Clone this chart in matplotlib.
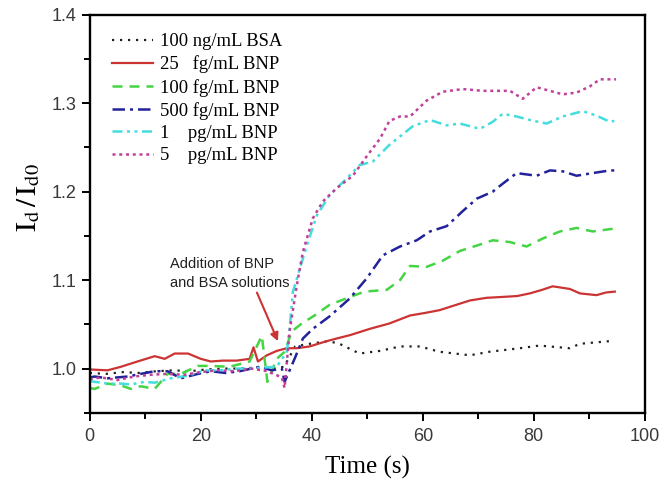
import matplotlib
matplotlib.use("Agg")
import matplotlib.pyplot as plt
from matplotlib.ticker import MultipleLocator

plt.rcParams["mathtext.fontset"] = "stix"

# ---- data: time (s) and normalised current I_d / I_d0 ----
bsa_t = [0, 3, 6, 9, 12, 15, 18, 21, 24, 27, 30, 33, 35, 37, 39.6, 43, 45, 48.6, 52.3,
         55.9, 59.5, 63, 68.5, 72, 77.5, 81, 86.5, 88.3, 93.7]
bsa_y = [0.995, 0.994, 0.996, 0.995, 0.997, 0.998, 0.997, 0.999, 1.0, 1.0, 1.001, 1.0,
         1.002, 1.025, 1.028, 1.031, 1.028, 1.017, 1.020, 1.025, 1.025, 1.019, 1.015,
         1.019, 1.023, 1.026, 1.023, 1.028, 1.031]

bnp25_t = [0, 3.2, 5.6, 8.6, 11.7, 13.5, 15.3, 17.7, 20, 21.8, 24, 26.5, 28.8, 29.5,
           30.3, 31.9, 33.7, 35.5, 37.3, 39.6, 42.7, 44.5, 47, 50.5, 54, 57.7, 60.5,
           63, 65.5, 68.5, 71.5, 74.4, 77, 79.3, 81.5, 83.4, 86.5, 88.3, 91.3, 93, 94.6]
bnp25_y = [0.999, 0.998, 1.002, 1.008, 1.014, 1.011, 1.017, 1.017, 1.011, 1.008, 1.009,
           1.009, 1.011, 1.024, 1.008, 1.015, 1.02, 1.023, 1.023, 1.025, 1.031, 1.034,
           1.038, 1.045, 1.051, 1.060, 1.063, 1.066, 1.071, 1.077, 1.080, 1.081, 1.082,
           1.085, 1.089, 1.093, 1.090, 1.085, 1.083, 1.086, 1.087]

bnp100_t = [0, 0.9, 3.2, 5.6, 7.4, 9.2, 11.7, 12.8, 14, 16.4, 19.5, 21.8, 25.2, 28.8,
            31, 31.5, 32, 33.7, 35.1, 36.4, 38.2, 40.5, 43.2, 46.5, 49.5, 53.5, 55.9,
            57.7, 60.7, 63.6, 66.7, 69.7, 72.6, 75.7, 78.7, 81.6, 84.7, 87.7, 90.6, 94.2]
bnp100_y = [0.978, 0.977, 0.983, 0.981, 0.977, 0.980, 0.977, 0.985, 0.994, 0.994, 1.003,
            1.003, 1.002, 1.008, 1.037, 1.011, 0.985, 1.011, 1.019, 1.042, 1.051, 1.060,
            1.072, 1.080, 1.087, 1.089, 1.100, 1.116, 1.115, 1.122, 1.133, 1.139, 1.145,
            1.143, 1.138, 1.147, 1.155, 1.159, 1.155, 1.158]

bnp500_t = [0, 0.9, 3.2, 6.8, 9.2, 11.7, 14, 16.4, 19.5, 21.8, 24.5, 27, 30.6, 32.8,
            34.6, 35.1, 36.9, 38.4, 40.2, 43.2, 46.8, 49.9, 52.8, 55.9, 58.9, 61.3,
            64.3, 67.2, 69.7, 72.6, 74.4, 76.9, 80.5, 82.9, 85.2, 87.7, 90.6, 93.7, 94.5]
bnp500_y = [0.990, 0.991, 0.989, 0.991, 0.994, 0.997, 0.997, 0.989, 0.994, 0.997, 0.995,
            0.997, 1.002, 0.998, 1.0, 0.985, 1.011, 1.034, 1.045, 1.059, 1.079, 1.102,
            1.128, 1.138, 1.145, 1.155, 1.161, 1.178, 1.192, 1.200, 1.209, 1.221, 1.218,
            1.224, 1.223, 1.218, 1.221, 1.224, 1.224]

pg1_t = [0, 0.9, 3.2, 5.6, 7.4, 9.9, 11.7, 14.6, 17.7, 20.7, 23.4, 26.5, 28.8, 31,
         33.7, 35.5, 36, 36.6, 39.1, 40.9, 43.2, 46.3, 48.6, 51, 54, 58.2, 61.3, 64.3,
         66.7, 68.5, 70.3, 72.6, 74.4, 76.9, 79.3, 82.3, 85.2, 88.8, 91.3, 93.7, 94.5]
pg1_y = [0.986, 0.985, 0.983, 0.983, 0.982, 0.985, 0.984, 0.989, 0.992, 0.998, 0.998,
         1.0, 1.0, 1.001, 1.002, 1.019, 1.045, 1.087, 1.139, 1.173, 1.196, 1.215, 1.230,
         1.234, 1.253, 1.274, 1.281, 1.275, 1.277, 1.274, 1.271, 1.279, 1.288, 1.285,
         1.281, 1.277, 1.285, 1.291, 1.286, 1.279, 1.280]

pg5_t = [0, 2, 5, 8, 11, 14, 17, 20, 23, 26, 29, 32, 34.6, 35.1, 36, 37.3, 38.4,
         40.2, 42, 44.5, 47.4, 49.9, 52.3, 54, 55.9, 57.7, 60.7, 63.6, 67.2, 70.8,
         75.7, 78, 80.5, 82.9, 85.2, 87.7, 90.1, 91.9, 94.2, 94.8]
pg5_y = [0.988, 0.990, 0.987, 0.991, 0.993, 0.994, 0.993, 0.996, 0.998, 0.997, 1.0,
         0.997, 0.990, 0.978, 1.042, 1.094, 1.132, 1.170, 1.189, 1.204, 1.218, 1.240,
         1.260, 1.280, 1.285, 1.285, 1.303, 1.313, 1.316, 1.314, 1.314, 1.305, 1.318,
         1.314, 1.310, 1.312, 1.319, 1.327, 1.327, 1.327]

labels = ["100 ng/mL BSA", "25   fg/mL BNP", "100 fg/mL BNP",
          "500 fg/mL BNP", "1    pg/mL BNP", "5    pg/mL BNP"]

fig = plt.figure(figsize=(6.6, 4.92), dpi=100)
ax = fig.add_axes([0.136, 0.161, 0.841, 0.809])

ax.plot(bsa_t, bsa_y, color="#202020", lw=1.6, ls=(0, (1, 2.6)), label=labels[0])
ax.plot(bnp25_t, bnp25_y, color="#cc3333", lw=1.6, ls="-", label=labels[1])
ax.plot(bnp100_t, bnp100_y, color="#44d444", lw=1.8, ls=(0, (4, 2.8)), label=labels[2])
ax.plot(bnp500_t, bnp500_y, color="#22229a", lw=1.8, ls=(0, (5, 2, 1.2, 2)), label=labels[3])
ax.plot(pg1_t, pg1_y, color="#44dddd", lw=1.8, ls=(0, (4, 1.8, 1.2, 1.8, 1.2, 1.8)), label=labels[4])
ax.plot(pg5_t, pg5_y, color="#c0409a", lw=1.8, ls=(0, (1.2, 1.5)), label=labels[5])

ax.set_xlim(0, 100)
ax.set_ylim(0.95, 1.4)
ax.xaxis.set_major_locator(MultipleLocator(20))
ax.xaxis.set_minor_locator(MultipleLocator(10))
ax.yaxis.set_major_locator(MultipleLocator(0.1))
ax.yaxis.set_minor_locator(MultipleLocator(0.05))
ax.yaxis.set_major_formatter(plt.FuncFormatter(lambda v, p: f"{v:.1f}"))

for s in ax.spines.values():
    s.set_linewidth(1.7)
ax.tick_params(which="both", direction="out", top=False, right=False, width=1.4,
               labelsize=13, labelcolor="#3a3a3a")
ax.tick_params(which="major", length=6)
ax.tick_params(which="minor", length=4)
ax.tick_params(axis="x", pad=5)
for lab in ax.get_xticklabels() + ax.get_yticklabels():
    lab.set_fontfamily("Liberation Sans")

ax.set_xlabel("Time (s)", fontfamily="Liberation Serif", fontsize=18, labelpad=8)
ax.set_ylabel(r"$\mathrm{I_{d}\,/\,I_{d0}}$", fontsize=21)
ax.yaxis.set_label_coords(-0.085, 0.54)

ax.annotate("Addition of BNP\nand BSA solutions", xy=(33.9, 1.031), xytext=(14.4, 1.089),
            fontfamily="Liberation Sans", fontsize=10.5, color="#202020",
            ha="left", va="bottom", linespacing=1.4,
            arrowprops=dict(arrowstyle="-|>", color="#cc3333", lw=1.5,
                            mutation_scale=12, shrinkA=0, shrinkB=0,
                            relpos=(0.72, 0.0)))

leg = ax.legend(loc="upper left", frameon=False,
                prop={"family": "Liberation Serif", "size": 13.4},
                handlelength=2.2, handletextpad=0.38, labelspacing=0.28,
                borderaxespad=0.0, bbox_to_anchor=(0.0264, 0.972))

fig.savefig("out.png", dpi=100)
